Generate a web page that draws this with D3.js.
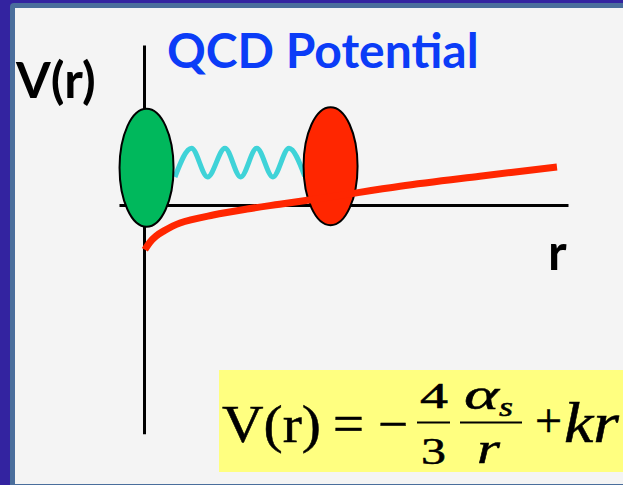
<!DOCTYPE html>
<html>
<head>
<meta charset="utf-8">
<script src="https://cdn.jsdelivr.net/npm/d3@7"></script>
<style>
  body { margin: 0; background: #3323a0; }
  svg { display: block; }
</style>
</head>
<body>
<script>
// potential curve (r in arbitrary units, V(r) in arbitrary units)
const curveR = [0.02, 0.14, 0.28, 0.45, 0.85, 1.63, 2.43, 3.2, 4.39, 6.04, 7.92, 9.74];
const curveV = [-1.12, -0.93, -0.78, -0.66, -0.45, -0.25, -0.1, 0.02, 0.2, 0.47, 0.72, 0.95];

// the two quarks
const quarkNames = ["quark", "antiquark"];
const quarkR = [0.06, 4.4];
const quarkV = [0.93, 0.97];

// gluon string between them: extrema of the wiggle
const gluonR = [0.73, 1.12, 1.5, 1.91, 2.28, 2.66, 3.04, 3.42, 3.79];
const gluonV = [0.7, 1.42, 0.7, 1.42, 0.7, 1.42, 0.7, 1.42, 0.72];

// axis extents
const rExtent = [-0.59, 10];
const vExtent = [-5.72, 4];

const width = 623;
const height = 485;

const x = d3.scaleLinear().domain([0, 10]).range([144, 568]);
const y = d3.scaleLinear().domain([0, 4]).range([205, 45]);

const svg = d3.select("body").append("svg")
    .attr("width", width)
    .attr("height", height);

// slide frame
svg.append("rect")
    .attr("width", width).attr("height", height)
    .attr("fill", "#3323a0");
svg.append("rect")
    .attr("x", 10).attr("y", 3)
    .attr("width", width).attr("height", height)
    .attr("rx", 4)
    .attr("fill", "#4a6e9c");
svg.append("rect")
    .attr("x", 15).attr("y", 8)
    .attr("width", width).attr("height", 476)
    .attr("fill", "#f4f4f4");

// axes without ticks
const xAxisScale = x.copy().domain(rExtent).range(rExtent.map(x));
const yAxisScale = y.copy().domain(vExtent).range(vExtent.map(y));

svg.append("g")
    .attr("transform", `translate(0,${y(0)})`)
    .call(d3.axisBottom(xAxisScale).tickValues([]).tickSizeOuter(0));
svg.append("g")
    .attr("transform", `translate(${x(0)},0)`)
    .call(d3.axisLeft(yAxisScale).tickValues([]).tickSizeOuter(0));
svg.selectAll(".domain")
    .attr("stroke", "#000")
    .attr("stroke-width", 3);

// gluon
const gluon = d3.zip(gluonR, gluonV);
svg.append("path")
    .datum(gluon)
    .attr("fill", "none")
    .attr("stroke", "#3fd3d8")
    .attr("stroke-width", 5)
    .attr("d", d3.line().x(d => x(d[0])).y(d => y(d[1])).curve(d3.curveMonotoneX));

// quarks
svg.append("g")
  .selectAll("ellipse")
  .data(quarkNames)
  .join("ellipse")
    .attr("cx", (d, i) => x(quarkR[i]))
    .attr("cy", (d, i) => y(quarkV[i]))
    .attr("rx", 27)
    .attr("ry", 59)
    .attr("fill", (d, i) => i === 0 ? "#00b85c" : "#ff2600")
    .attr("stroke", "#000")
    .attr("stroke-width", 2);

// V(r)
svg.append("path")
    .datum(d3.zip(curveR, curveV))
    .attr("fill", "none")
    .attr("stroke", "#ff2600")
    .attr("stroke-width", 7)
    .attr("d", d3.line().x(d => x(d[0])).y(d => y(d[1])).curve(d3.curveCatmullRom));

// labels
const sans = "Lato, 'Open Sans', sans-serif";
svg.append("text")
    .attr("x", 167).attr("y", 68)
    .attr("font-family", sans).attr("font-weight", 700).attr("font-size", 48)
    .attr("fill", "#0b3cf7")
    .text("QCD Potential");
svg.append("text")
    .attr("x", 16).attr("y", 98)
    .attr("font-family", sans).attr("font-weight", 700).attr("font-size", 50)
    .attr("fill", "#000")
    .text("V(r)");
svg.append("text")
    .attr("x", 548).attr("y", 270)
    .attr("font-family", sans).attr("font-weight", 700).attr("font-size", 50)
    .attr("fill", "#000")
    .text("r");

// formula box
svg.append("rect")
    .attr("x", 219).attr("y", 370)
    .attr("width", width - 219).attr("height", 102)
    .attr("fill", "#ffff80");

const f = svg.append("g")
    .attr("font-family", "'Liberation Serif', 'Times New Roman', serif")
    .attr("fill", "#000")
    .attr("stroke", "#000")
    .attr("stroke-width", 0.5);

// [text, x, baseline, font size, stretched width, italic]
const pieces = [
  ["V(r)", 222, 442, 53, 99, false],
  ["=", 333, 442, 54, 31, false],
  ["\u2212", 378, 442, 54, 30, false],
  ["4", 420, 408, 35, 28, false],
  ["3", 421, 464, 38, 25, false],
  ["\u03b1", 464, 409, 44, 35, true],
  ["s", 499, 416, 27, 14, true],
  ["r", 477, 463, 44, 23, true],
  ["kr", 564, 442, 57, 55, true]
];
f.selectAll("text")
  .data(pieces)
  .join("text")
    .attr("x", d => d[1])
    .attr("y", d => d[2])
    .attr("font-size", d => d[3])
    .attr("textLength", d => d[4])
    .attr("lengthAdjust", "spacingAndGlyphs")
    .attr("font-style", d => d[5] ? "italic" : null)
    .text(d => d[0]);

f.append("text").attr("x", 535).attr("y", 437).attr("font-size", 48).text("+");

f.append("line").attr("x1", 417).attr("x2", 450).attr("y1", 422.5).attr("y2", 422.5)
    .attr("stroke-width", 2);
f.append("line").attr("x1", 460).attr("x2", 522).attr("y1", 422.5).attr("y2", 422.5)
    .attr("stroke-width", 2);
</script>
</body>
</html>
